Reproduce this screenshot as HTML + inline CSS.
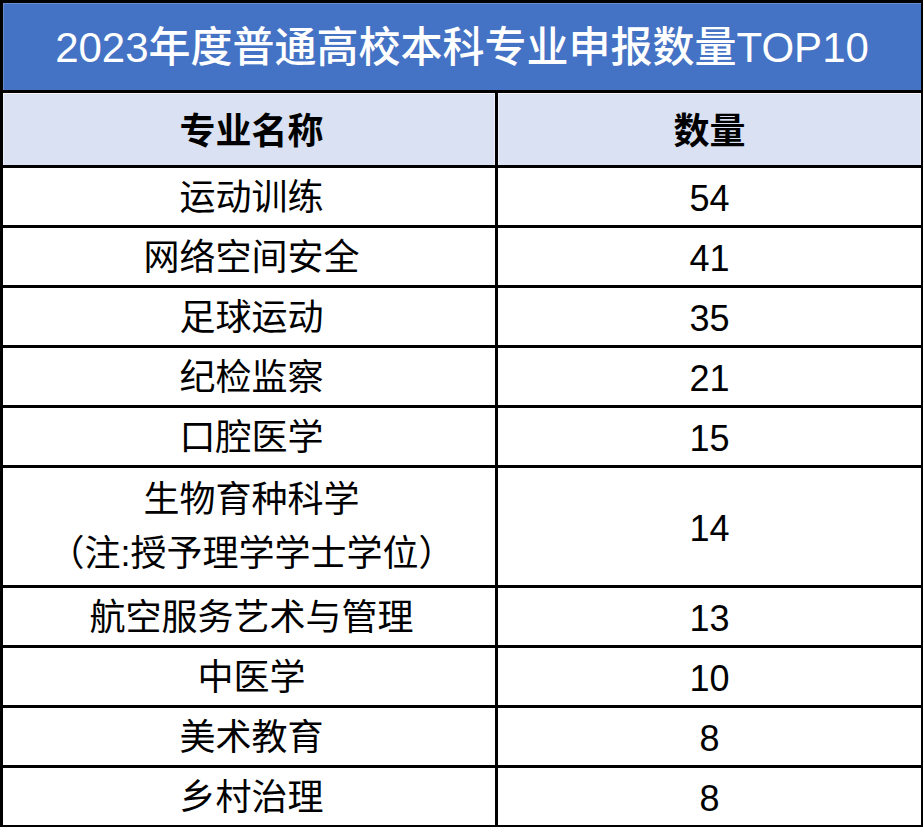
<!DOCTYPE html>
<html lang="zh-CN">
<head>
<meta charset="utf-8">
<title>2023年度普通高校本科专业申报数量TOP10</title>
<style>
html,body{margin:0;padding:0;background:#fff;}
body{width:923px;height:827px;overflow:hidden;font-family:"Liberation Sans","Noto Sans CJK SC",sans-serif;color:#000;}
table{border-collapse:separate;border-spacing:0;table-layout:fixed;width:924px;
  border-right:3px solid #000;border-bottom:3px solid #000;}
th,td{padding:0;margin:0;border-left:3px solid #000;border-top:3px solid #000;
  font-weight:normal;text-align:center;vertical-align:top;overflow:hidden;}
.c{position:relative;overflow:hidden;white-space:nowrap;}
.t{position:absolute;left:0;top:0;right:0;color:#000;font-size:36px;line-height:59px;
  font-family:"Liberation Sans","Noto Sans CJK SC",sans-serif;text-align:center;
  overflow:hidden;white-space:nowrap;}
.t.tt{color:#fff;font-size:42px;line-height:90px;font-weight:500;}
.t.th{font-weight:bold;line-height:78px;}
.t.n{left:5px;}
.t.d{line-height:61px;}
.title{background:#4472c4;}
.head{background:#d9e1f2;}
/* faint sharpening halos that hug the dark rules on the tinted cells */
.title .c{box-shadow:inset 1px 1px 0 rgba(255,255,255,.2);}
.head .c{box-shadow:inset 0 1px 0 rgba(255,255,255,.7),inset 1px 0 0 rgba(255,255,255,.45),inset -1px 0 0 rgba(255,255,255,.45);}
</style>
</head>
<body>
<table>
<colgroup><col style="width:495px"><col style="width:426px"></colgroup>
<tr><th colspan="2" class="title"><div class="c" style="height:87px"><span class="t tt">2023年度普通高校本科专业申报数量TOP10</span></div></th></tr>
<tr><th class="head"><div class="c" style="height:72px"><span class="t th n">专业名称</span></div></th><th class="head"><div class="c" style="height:72px"><span class="t th">数量</span></div></th></tr>
<tr><td><div class="c" style="height:57px"><span class="t n">运动训练</span></div></td><td><div class="c" style="height:57px"><span class="t d">54</span></div></td></tr>
<tr><td><div class="c" style="height:57px"><span class="t n">网络空间安全</span></div></td><td><div class="c" style="height:57px"><span class="t d">41</span></div></td></tr>
<tr><td><div class="c" style="height:57px"><span class="t n">足球运动</span></div></td><td><div class="c" style="height:57px"><span class="t d">35</span></div></td></tr>
<tr><td><div class="c" style="height:57px"><span class="t n">纪检监察</span></div></td><td><div class="c" style="height:57px"><span class="t d">21</span></div></td></tr>
<tr><td><div class="c" style="height:57px"><span class="t n">口腔医学</span></div></td><td><div class="c" style="height:57px"><span class="t d">15</span></div></td></tr>
<tr><td><div class="c" style="height:117px"><span class="t n" style="top:5px;line-height:54px">生物育种科学<br>（注:授予理学学士学位）</span></div></td><td><div class="c" style="height:117px"><span class="t d" style="line-height:121px">14</span></div></td></tr>
<tr><td><div class="c" style="height:57px"><span class="t n">航空服务艺术与管理</span></div></td><td><div class="c" style="height:57px"><span class="t d">13</span></div></td></tr>
<tr><td><div class="c" style="height:57px"><span class="t n">中医学</span></div></td><td><div class="c" style="height:57px"><span class="t d">10</span></div></td></tr>
<tr><td><div class="c" style="height:57px"><span class="t n">美术教育</span></div></td><td><div class="c" style="height:57px"><span class="t d">8</span></div></td></tr>
<tr><td><div class="c" style="height:57px"><span class="t n">乡村治理</span></div></td><td><div class="c" style="height:57px"><span class="t d">8</span></div></td></tr>
</table>
</body>
</html>
